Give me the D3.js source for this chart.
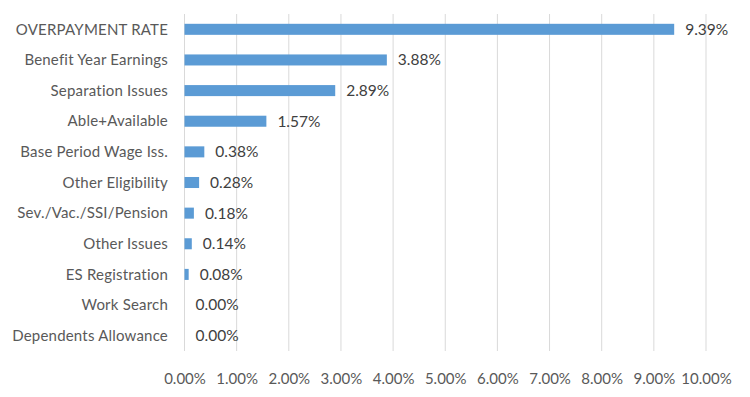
<!DOCTYPE html>
<html><head><meta charset="utf-8">
<script src="https://cdn.jsdelivr.net/npm/d3@7"></script>
<style>body{margin:0;background:#fff}</style>
</head><body><svg id="c" width="750" height="397"></svg>
<script>
const categories = ["OVERPAYMENT RATE","Benefit Year Earnings","Separation Issues","Able+Available","Base Period Wage Iss.","Other Eligibility","Sev./Vac./SSI/Pension","Other Issues","ES Registration","Work Search","Dependents Allowance"];
const values = [9.39,3.88,2.89,1.57,0.38,0.28,0.18,0.14,0.08,0.00,0.00];
const tickValues = [0,1,2,3,4,5,6,7,8,9,10];

const svg = d3.select("#c");
const font = "Lato, 'Open Sans', sans-serif";
const x = d3.scaleLinear().domain([0,10]).range([184.5,706]);
const y = d3.scaleBand().domain(categories).range([14,351]).paddingInner(0.64).paddingOuter(0.32);

svg.append("g").selectAll("line").data(tickValues).join("line")
  .attr("x1",d=>x(d)).attr("x2",d=>x(d)).attr("y1",14).attr("y2",351)
  .attr("stroke","#d9d9d9").attr("stroke-width",1);

svg.append("g").selectAll("rect").data(values).join("rect")
  .attr("x",x(0)).attr("y",(d,i)=>y(categories[i]))
  .attr("width",d=>x(d)-x(0)).attr("height",y.bandwidth())
  .attr("fill","#5b9bd5");

svg.append("g").selectAll("text").data(categories).join("text")
  .attr("x",168).attr("y",d=>y(d)+y.bandwidth()/2).attr("dy","0.35em")
  .attr("text-anchor","end").attr("font-family",font).attr("font-size",15)
  .attr("letter-spacing",0.2)
  .attr("fill","#595959").text(d=>d);

svg.append("g").selectAll("text").data(values).join("text")
  .attr("x",d=>x(d)+11).attr("y",(d,i)=>y(categories[i])+y.bandwidth()/2).attr("dy","0.35em")
  .attr("font-family",font).attr("font-size",15.5)
  .attr("fill","#404040").text(d=>d.toFixed(2)+"%");

const xAxis = d3.axisBottom(x).tickValues(tickValues).tickSize(0).tickPadding(0)
  .tickFormat(d=>d.toFixed(2)+"%");
const gx = svg.append("g").attr("transform","translate(0,373)").call(xAxis);
gx.select(".domain").remove();
gx.selectAll("text").attr("font-family",font).attr("font-size",15).attr("fill","#595959").attr("dy","0.71em");
</script></body></html>
